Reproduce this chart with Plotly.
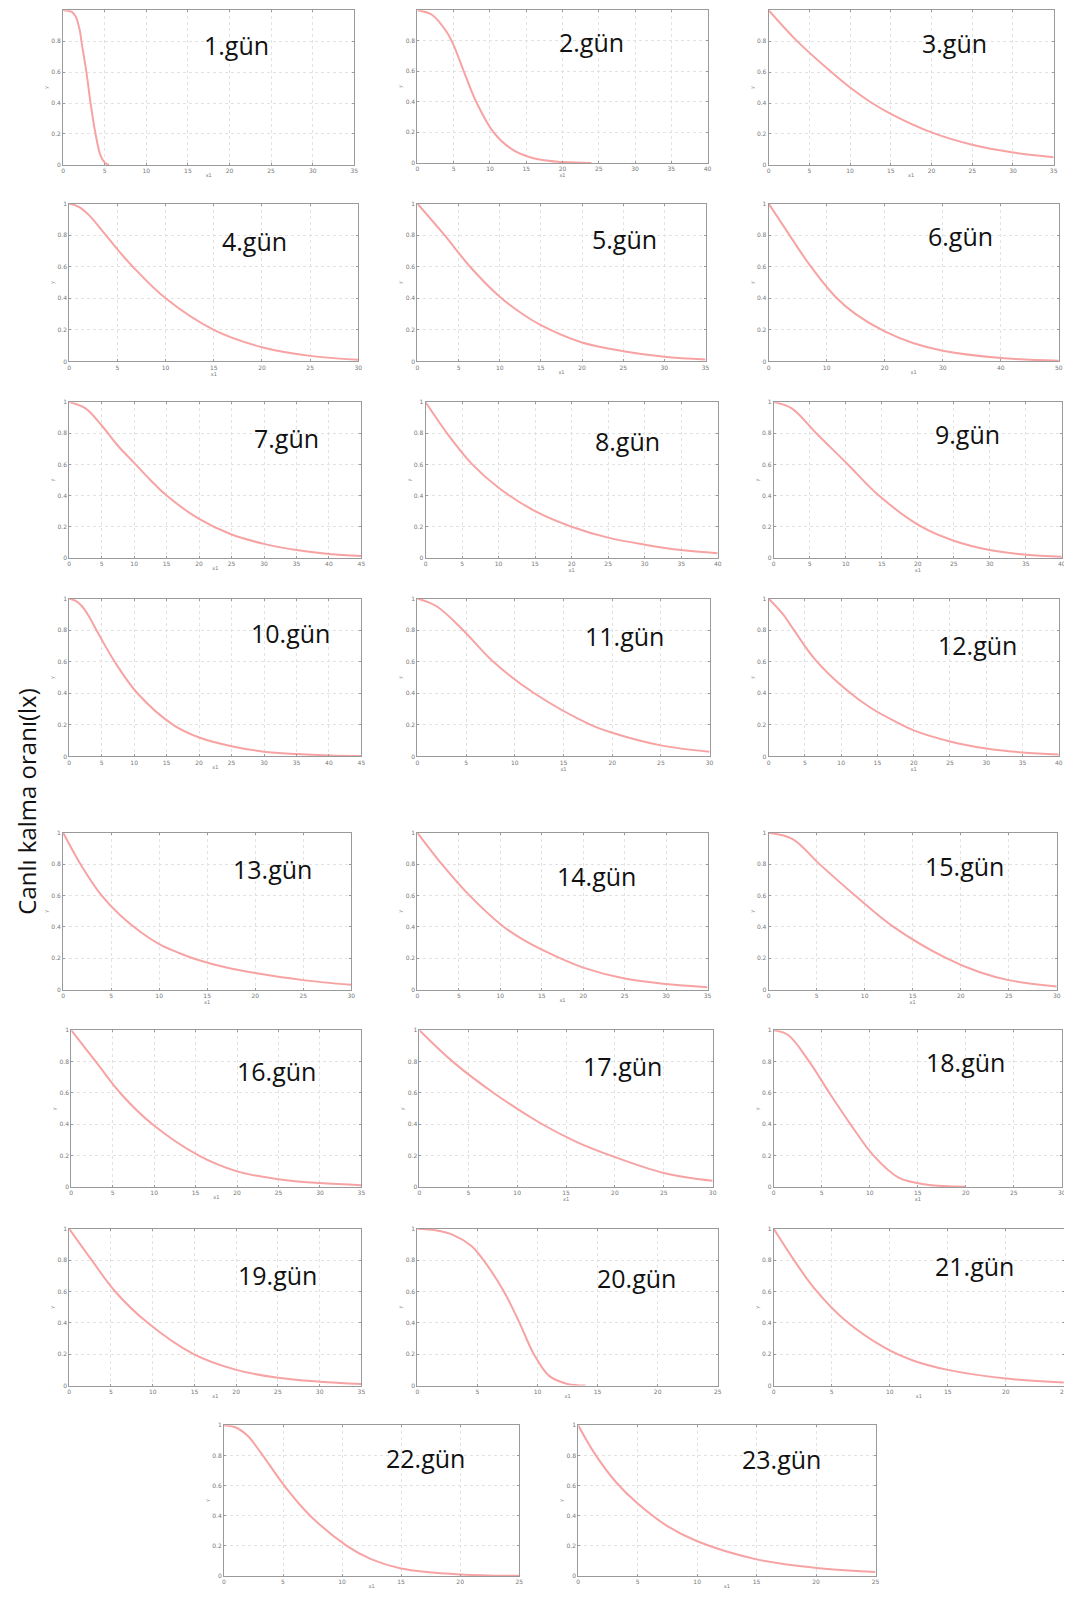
import plotly.graph_objects as go

OFF = 8                      # default page body margin of the browser
W, H = 1072 - OFF, 1597 - 2 * OFF
S = 1072 / 1053.0            # reference display -> full size

# ---------------- data ----------------
labels = ["%d.gün" % i for i in range(1, 24)]
x_max = [35, 40, 35, 30, 35, 50, 45, 40, 40, 45, 30, 40, 30, 35, 30, 35, 30, 30, 35, 25, 25, 25, 25]

x01 = [0, 1, 1.5, 2, 2.2, 2.8, 3.3, 3.9, 4.5, 5, 5.5]
y01 = [1, 0.99, 0.96, 0.87, 0.8, 0.6, 0.4, 0.2, 0.06, 0.015, 0]
x02 = [0, 2, 4, 5, 6.4, 8.1, 10.5, 13, 16, 20, 24]
y02 = [1, 0.97, 0.86, 0.77, 0.6, 0.4, 0.2, 0.09, 0.03, 0.005, 0]
x03 = [0, 3.5, 7.7, 10, 12.4, 15, 20, 25, 30, 35]
y03 = [1, 0.8, 0.6, 0.5, 0.41, 0.33, 0.21, 0.13, 0.08, 0.05]
x04 = [0, 1, 2, 3.8, 5, 6.6, 10, 15, 20, 25, 30]
y04 = [1, 0.98, 0.93, 0.8, 0.71, 0.6, 0.4, 0.2, 0.09, 0.035, 0.01]
x05 = [0, 3.3, 6.4, 10, 12.5, 15, 20, 25, 30, 35]
y05 = [1, 0.8, 0.6, 0.41, 0.31, 0.23, 0.12, 0.065, 0.03, 0.012]
x06 = [0, 3.6, 7.1, 11.5, 15, 20, 25, 30, 40, 50]
y06 = [1, 0.8, 0.61, 0.41, 0.3, 0.19, 0.115, 0.068, 0.022, 0.004]
x07 = [0, 2.5, 5, 7.5, 10, 12.5, 15, 20, 25, 30, 35, 40, 45]
y07 = [1, 0.96, 0.85, 0.72, 0.61, 0.5, 0.4, 0.25, 0.15, 0.09, 0.05, 0.025, 0.012]
x08 = [0, 3.1, 6.4, 10, 15, 20, 25, 30, 35, 40]
y08 = [1, 0.79, 0.6, 0.45, 0.3, 0.2, 0.13, 0.085, 0.05, 0.03]
x09 = [0, 2.5, 5.9, 10.3, 14.6, 20.5, 25, 30, 35, 40]
y09 = [1, 0.96, 0.8, 0.6, 0.4, 0.2, 0.11, 0.05, 0.02, 0.008]
x10 = [0, 1, 2, 3, 4.2, 7, 10.5, 16, 20, 25, 30, 35, 40, 45]
y10 = [1, 0.985, 0.95, 0.89, 0.8, 0.6, 0.4, 0.2, 0.12, 0.065, 0.03, 0.015, 0.006, 0.002]
x11 = [0, 2, 4.7, 7.8, 12, 17.8, 20, 25, 30]
y11 = [1, 0.95, 0.8, 0.6, 0.4, 0.2, 0.15, 0.07, 0.03]
x12 = [0, 2, 3.5, 6.3, 10.5, 14, 17.5, 20, 25, 30, 35, 40]
y12 = [1, 0.9, 0.8, 0.62, 0.43, 0.31, 0.22, 0.165, 0.095, 0.05, 0.025, 0.012]
x13 = [0, 2, 4, 6, 8, 10, 12, 14, 17, 20, 25, 30]
y13 = [1, 0.78, 0.6, 0.47, 0.37, 0.29, 0.235, 0.19, 0.14, 0.105, 0.06, 0.03]
x14 = [0, 3.1, 6.1, 10.4, 13, 17.2, 20, 25, 30, 35]
y14 = [1, 0.79, 0.61, 0.4, 0.31, 0.2, 0.14, 0.07, 0.035, 0.015]
x15 = [0, 2.5, 5.3, 9, 13, 18.5, 22, 25, 30]
y15 = [1, 0.96, 0.8, 0.6, 0.4, 0.2, 0.11, 0.06, 0.02]
x16 = [0, 3.1, 5.9, 9.8, 15.4, 20, 25, 30, 35]
y16 = [1, 0.79, 0.6, 0.4, 0.2, 0.1, 0.05, 0.025, 0.012]
x17 = [0, 3.4, 7.6, 12.3, 16, 19.6, 25, 30]
y17 = [1, 0.8, 0.6, 0.41, 0.29, 0.2, 0.09, 0.04]
x18 = [0, 1.5, 3.7, 5.8, 8, 10.4, 13, 16, 20]
y18 = [1, 0.97, 0.8, 0.6, 0.4, 0.2, 0.06, 0.015, 0.002]
x19 = [0, 2.7, 5.5, 9.4, 14.9, 20, 25, 30, 35]
y19 = [1, 0.8, 0.6, 0.4, 0.2, 0.1, 0.05, 0.025, 0.01]
x20 = [0, 1.5, 3, 4.5, 5.5, 7.2, 8.5, 9.7, 11, 12.5, 14]
y20 = [1, 0.99, 0.96, 0.89, 0.8, 0.6, 0.4, 0.2, 0.06, 0.01, 0]
x21 = [0, 1.75, 3.5, 6.1, 9.6, 12, 15, 20, 25]
y21 = [1, 0.8, 0.62, 0.42, 0.24, 0.16, 0.1, 0.045, 0.02]
x22 = [0, 1, 2, 3.1, 5.1, 7.3, 10.4, 12.5, 15, 20, 25]
y22 = [1, 0.985, 0.93, 0.82, 0.6, 0.4, 0.2, 0.11, 0.05, 0.01, 0.001]
x23 = [0, 1.4, 3.2, 5, 7.5, 10, 15, 20, 25]
y23 = [1, 0.81, 0.62, 0.48, 0.33, 0.23, 0.11, 0.053, 0.026]

xs = [x01, x02, x03, x04, x05, x06, x07, x08, x09, x10, x11, x12,
      x13, x14, x15, x16, x17, x18, x19, x20, x21, x22, x23]
ys = [y01, y02, y03, y04, y05, y06, y07, y08, y09, y10, y11, y12,
      y13, y14, y15, y16, y17, y18, y19, y20, y21, y22, y23]

y_tickvals = [0, 0.2, 0.4, 0.6, 0.8, 1]
y_ticktext = ["0", "0.2", "0.4", "0.6", "0.8", "1"]

# ---------------- layout (panel boxes in reference display px) ----------------
boxes = [
    (62, 10, 348, 162), (410, 10, 695, 160), (755, 10, 1035, 162),
    (68, 200, 352, 355), (410, 200, 693, 355), (755, 200, 1040, 355),
    (68, 395, 355, 548), (418, 395, 705, 548), (760, 395, 1043, 548),
    (68, 588, 355, 743), (410, 588, 697, 743), (755, 588, 1040, 743),
    (62, 818, 345, 972), (410, 818, 695, 972), (755, 818, 1038, 972),
    (70, 1012, 355, 1166), (412, 1012, 700, 1166), (760, 1012, 1043, 1166),
    (68, 1207, 355, 1361), (410, 1207, 705, 1361), (760, 1207, 1045, 1361),
    (220, 1400, 510, 1548), (568, 1400, 860, 1548),
]
label_pos = [
    (232, 44), (581, 41), (938, 42), (250, 237), (613, 235), (943, 232),
    (281, 430), (616, 433), (950, 426), (285, 622), (613, 625), (960, 634),
    (268, 854), (586, 860), (947, 851), (272, 1052), (611, 1047), (948, 1043),
    (273, 1252), (625, 1255), (957, 1244), (418, 1432), (768, 1433),
]


def clamp(v):
    return min(1.0, max(0.0, v))


def px(v):
    return clamp((v * S - OFF) / W)


def py(v):
    return clamp(1 - (v * S - OFF) / H)


fig = go.Figure()
layout = dict(
    width=W, height=H, margin=dict(l=0, r=0, t=0, b=0, autoexpand=False),
    paper_bgcolor="white", plot_bgcolor="white", showlegend=False,
    font=dict(family="DejaVu Sans", color="#777777"),
)
annotations = []

for i in range(23):
    n = "" if i == 0 else str(i + 1)
    x0, y0, x1, y1 = boxes[i]
    fig.add_trace(go.Scatter(
        x=xs[i], y=ys[i], mode="lines",
        line=dict(color="#f7a3a3", width=2, shape="spline", smoothing=1.0),
        xaxis="x" + n, yaxis="y" + n, hoverinfo="skip",
    ))
    dt = 10 if x_max[i] >= 50 else 5
    axcommon = dict(
        showline=True, linecolor="#9a9a9a", linewidth=1, mirror="ticks",
        ticks="inside", ticklen=2, tickcolor="#9a9a9a",
        showgrid=True, gridcolor="#e2e2e2", griddash="dot", gridwidth=1,
        zeroline=False, tickfont=dict(size=6, color="#777777"),
        automargin=False,
    )
    layout["xaxis" + n] = dict(
        axcommon, domain=[px(x0), px(x1)], range=[0, x_max[i]],
        anchor="y" + n, dtick=dt, tick0=0,
        title=dict(text="x1", font=dict(size=5, color="#777777"), standoff=0),
    )
    layout["yaxis" + n] = dict(
        axcommon, domain=[py(y1), py(y0)], range=[0, 1],
        anchor="x" + n, tickvals=y_tickvals, ticktext=y_ticktext,
        title=dict(text="y", font=dict(size=5, color="#777777"), standoff=2),
    )
    lx, ly = label_pos[i]
    annotations.append(dict(
        text=labels[i], x=px(lx), y=py(ly),
        xref="paper", yref="paper", showarrow=False,
        xanchor="center", yanchor="middle",
        font=dict(family="Open Sans", size=25, color="#111111"),
    ))

annotations.append(dict(
    text="Canlı kalma oranı(lx)", x=0, y=py(788),
    xref="paper", yref="paper", showarrow=False, textangle=-90,
    xanchor="left", yanchor="middle",
    font=dict(family="Open Sans", size=24, color="#111111"),
))
layout["annotations"] = annotations
fig.update_layout(**layout)
fig.write_html("out.html")
